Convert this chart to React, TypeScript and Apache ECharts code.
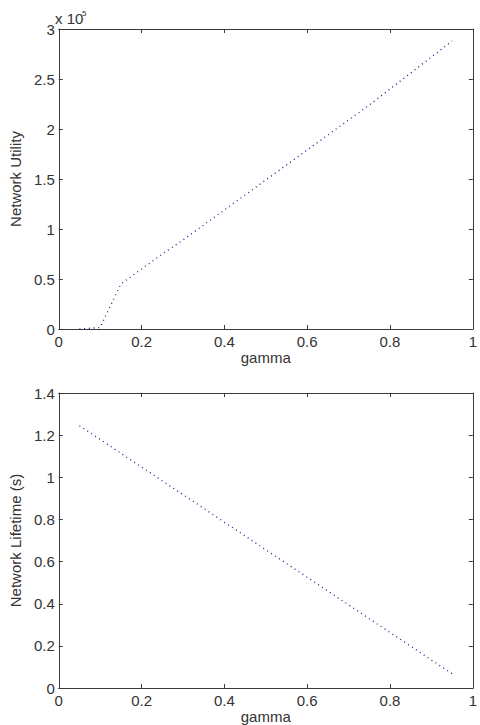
import React, { useEffect, useRef } from "react";
import * as echarts from "echarts";

const gamma = [0.05, 0.1, 0.15, 0.2, 0.25, 0.3, 0.35, 0.4, 0.45, 0.5, 0.55, 0.6, 0.65, 0.7, 0.75, 0.8, 0.85, 0.9, 0.95];
const utility = [0, 1500, 45000, 60000, 75000, 89000, 104000, 119000, 134000, 149000, 164000, 179000, 194000, 209000, 224000, 240000, 256000, 272000, 288000];
const lifetime = [1.245, 1.18, 1.114, 1.049, 0.983, 0.918, 0.853, 0.787, 0.722, 0.656, 0.591, 0.526, 0.46, 0.395, 0.329, 0.264, 0.199, 0.133, 0.068];
const utilityScale = 1e5;

const FONT = "'Liberation Sans', Arial, sans-serif";
const TEXT = "#333333";
const AXIS = "#3a3a3a";
const LINE = "#1e1e90";

function mainX(gridIndex: number) {
  return {
    type: "value",
    gridIndex,
    min: 0,
    max: 1,
    interval: 0.2,
    position: "bottom",
    name: "gamma",
    nameLocation: "middle",
    nameGap: 20,
    nameTextStyle: { fontFamily: FONT, fontSize: 15, color: TEXT },
    axisLine: { show: true, onZero: false, lineStyle: { color: AXIS, width: 1 } },
    axisTick: { show: true, inside: true, length: 4, lineStyle: { color: AXIS } },
    axisLabel: { show: true, margin: 5, fontFamily: FONT, fontSize: 15, color: TEXT },
    splitLine: { show: false },
  };
}
function topX(gridIndex: number) {
  return {
    type: "value",
    gridIndex,
    min: 0,
    max: 1,
    interval: 0.2,
    position: "top",
    axisLine: { show: true, onZero: false, lineStyle: { color: AXIS, width: 1 } },
    axisTick: { show: true, inside: true, length: 4, lineStyle: { color: AXIS } },
    axisLabel: { show: false },
    splitLine: { show: false },
  };
}
function mainY(gridIndex: number, max: number, interval: number, name: string, gap: number) {
  return {
    type: "value",
    gridIndex,
    min: 0,
    max,
    interval,
    position: "left",
    name,
    nameLocation: "middle",
    nameGap: gap,
    nameTextStyle: { fontFamily: FONT, fontSize: 15, color: TEXT },
    axisLine: { show: true, onZero: false, lineStyle: { color: AXIS, width: 1 } },
    axisTick: { show: true, inside: true, length: 4, lineStyle: { color: AXIS } },
    axisLabel: { show: true, margin: 4, fontFamily: FONT, fontSize: 15, color: TEXT },
    splitLine: { show: false },
  };
}
function rightY(gridIndex: number, max: number, interval: number) {
  return {
    type: "value",
    gridIndex,
    min: 0,
    max,
    interval,
    position: "right",
    axisLine: { show: true, onZero: false, lineStyle: { color: AXIS, width: 1 } },
    axisTick: { show: true, inside: true, length: 4, lineStyle: { color: AXIS } },
    axisLabel: { show: false },
    splitLine: { show: false },
  };
}

export default function App() {
  const ref = useRef<HTMLDivElement>(null);
  useEffect(() => {
    if (!ref.current) return;
    const chart = echarts.init(ref.current, null, { renderer: "svg" });
    const utilData = gamma.map((g, i) => [g, utility[i] / utilityScale]);
    const lifeData = gamma.map((g, i) => [g, lifetime[i]]);
    const lineStyle = { color: LINE, width: 1.3, type: [1, 3.7] as any };
    chart.setOption({
      animation: false,
      backgroundColor: "#ffffff",
      grid: [
        { left: 55, top: 29, width: 424, height: 300, containLabel: false },
        { left: 57, top: 393, width: 424, height: 296, containLabel: false },
      ],
      xAxis: [mainX(0), topX(0), mainX(1), topX(1)],
      yAxis: [
        mainY(0, 3, 0.5, "Network Utility", 32),
        rightY(0, 3, 0.5),
        mainY(1, 1.4, 0.2, "Network Lifetime (s)", 32),
        rightY(1, 1.4, 0.2),
      ],
      graphic: [
        {
          type: "text",
          left: 55,
          top: 11,
          style: { text: "x 10", fontFamily: FONT, fontSize: 15, fill: TEXT },
        },
        {
          type: "text",
          left: 82,
          top: 9,
          style: { text: "5", fontFamily: FONT, fontSize: 8, fill: TEXT },
        },
      ],
      series: [
        {
          type: "line",
          xAxisIndex: 0,
          yAxisIndex: 0,
          data: utilData,
          showSymbol: false,
          lineStyle,
        },
        {
          type: "line",
          xAxisIndex: 2,
          yAxisIndex: 2,
          data: lifeData,
          showSymbol: false,
          lineStyle,
        },
      ],
    });
    return () => chart.dispose();
  }, []);
  return (
    <div
      ref={ref}
      style={{ position: "fixed", left: 0, top: 0, width: 480, height: 725, background: "#fff" }}
    />
  );
}
